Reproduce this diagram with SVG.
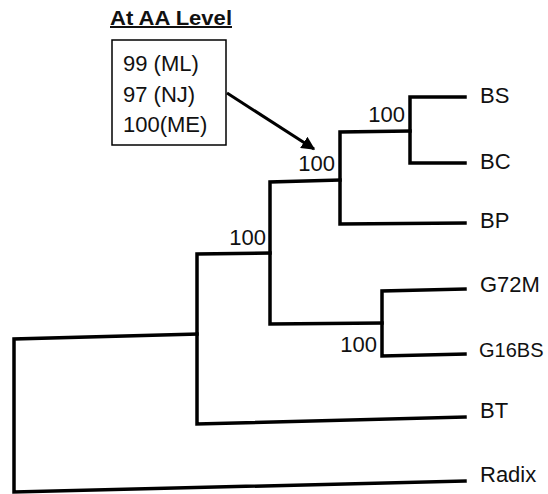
<svg xmlns="http://www.w3.org/2000/svg" width="548" height="494" viewBox="0 0 548 494">
  <style>
    text { font-family: "Liberation Sans", Arial, sans-serif; font-size: 22px; fill: #111; }
    .lbl { font-size: 22px; }
    .bs { font-size: 22px; text-anchor: end; }
    .title { font-weight: bold; font-size: 20px; text-decoration: underline; }
    .branch { fill: none; stroke: #000; stroke-width: 3.5; stroke-linejoin: miter; stroke-linecap: square; }
    .box { fill: #fff; stroke: #000; stroke-width: 1.5; }
    .arrow { fill: none; stroke: #000; stroke-width: 3; }
  </style>
  <defs>
    <marker id="ah" viewBox="0 0 10 10" refX="9" refY="5" markerWidth="4.5" markerHeight="4.5" orient="auto" markerUnits="strokeWidth">
      <path d="M0,0 L10,5 L0,10 z" fill="#000"/>
    </marker>
  </defs>

  <g id="connectors">
    <path class="branch" d="M465,481 L14,492 L14,339 L197,334"/>
    <path class="branch" d="M465,417 L197,424 L197,254 L270,253"/>
    <path class="branch" d="M340,180 L270,182 L270,324 L382,323"/>
    <path class="branch" d="M465,289 L382,291 L382,356 L465,354"/>
    <path class="branch" d="M410,131 L340,132 L340,224 L465,223"/>
    <path class="branch" d="M465,97 L410,97 L410,163 L465,163"/>
    <line class="arrow" x1="227" y1="93" x2="314" y2="149" marker-end="url(#ah)"/>
  </g>

  <g id="annotation">
    <text class="title" x="110" y="25" textLength="122" lengthAdjust="spacingAndGlyphs">At AA Level</text>
    <rect class="box" x="112" y="40" width="114" height="105"/>
    <text x="123" y="71">99 (ML)</text>
    <text x="123" y="102">97 (NJ)</text>
    <text x="123" y="132">100(ME)</text>
  </g>

  <g id="node-BSBC"><text class="bs" x="405" y="122">100</text></g>
  <g id="node-BSBCBP"><text class="bs" x="335" y="171">100</text></g>
  <g id="node-ingroup"><text class="bs" x="266" y="245">100</text></g>
  <g id="node-G"><text class="bs" x="377" y="352">100</text></g>

  <g id="leaf-BS"><text class="lbl" x="480" y="103">BS</text></g>
  <g id="leaf-BC"><text class="lbl" x="480" y="169">BC</text></g>
  <g id="leaf-BP"><text class="lbl" x="480" y="228">BP</text></g>
  <g id="leaf-G72M"><text class="lbl" x="480" y="292">G72M</text></g>
  <g id="leaf-G16BS"><text class="lbl" x="479" y="357" style="font-size:20px">G16BS</text></g>
  <g id="leaf-BT"><text class="lbl" x="480" y="418">BT</text></g>
  <g id="leaf-Radix"><text class="lbl" x="480" y="482">Radix</text></g>
</svg>
